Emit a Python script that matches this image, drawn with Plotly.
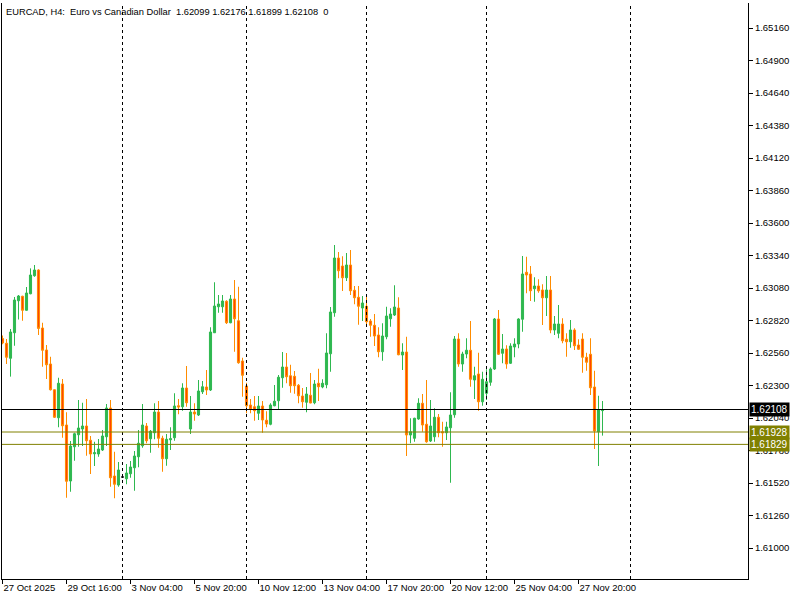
import plotly.graph_objects as go

# ---- data (EURCAD H4, bar index 0 = 27 Oct 2025 00:00) ----
opens = [1.62676, 1.62638, 1.62518, 1.62722, 1.62978, 1.63014, 1.62902, 1.63034, 1.63178, 1.63224,
         1.62760, 1.62584, 1.62472, 1.62266, 1.62042, 1.62312, 1.61984, 1.61536, 1.61810, 1.61906,
         1.61952, 1.61976, 1.61862, 1.61754, 1.61752, 1.61784, 1.61890, 1.62120, 1.61576, 1.61504,
         1.61568, 1.61554, 1.61594, 1.61642, 1.61730, 1.61818, 1.61976, 1.61874, 1.61922, 1.62088,
         1.61878, 1.61714, 1.61866, 1.61882, 1.62138, 1.62130, 1.62280, 1.61952, 1.62088, 1.62064,
         1.62250, 1.62288, 1.62264, 1.62722, 1.62930, 1.62930, 1.62974, 1.62802, 1.62992, 1.62818,
         1.62496, 1.62296, 1.62144, 1.62130, 1.62078, 1.62136, 1.62022, 1.61990, 1.62138, 1.62178,
         1.62362, 1.62448, 1.62378, 1.62374, 1.62302, 1.62216, 1.62166, 1.62222, 1.62162, 1.62318,
         1.62288, 1.62306, 1.62554, 1.62882, 1.63320, 1.63256, 1.63162, 1.63264, 1.63062, 1.63006,
         1.62920, 1.62934, 1.62816, 1.62782, 1.62704, 1.62570, 1.62690, 1.62834, 1.62864, 1.62920,
         1.62544, 1.62568, 1.61904, 1.61878, 1.62032, 1.62158, 1.61990, 1.61856, 1.61890, 1.62046,
         1.61930, 1.61922, 1.61962, 1.62066, 1.62672, 1.62472, 1.62552, 1.62582, 1.62344, 1.62392,
         1.62170, 1.62238, 1.62326, 1.62432, 1.62832, 1.62558, 1.62592, 1.62478, 1.62608, 1.62632,
         1.62830, 1.63206, 1.63192, 1.63074, 1.63096, 1.63064, 1.63002, 1.63064, 1.62744, 1.62718,
         1.62792, 1.62670, 1.62650, 1.62744, 1.62624, 1.62672, 1.62526, 1.62550, 1.62288, 1.61930,
         1.62099]
highs = [1.62700, 1.62672, 1.62752, 1.63008, 1.63024, 1.63018, 1.63088, 1.63237, 1.63264, 1.63230,
         1.62802, 1.62624, 1.62530, 1.62270, 1.62362, 1.62352, 1.62086, 1.61856, 1.61922, 1.62184,
         1.62162, 1.62192, 1.61896, 1.61850, 1.61872, 1.61944, 1.62152, 1.62184, 1.61770, 1.61688,
         1.61576, 1.61672, 1.61696, 1.61776, 1.61944, 1.62152, 1.62000, 1.61944, 1.62158, 1.62176,
         1.61898, 1.61912, 1.61966, 1.62238, 1.62192, 1.62318, 1.62456, 1.62216, 1.62158, 1.62344,
         1.62336, 1.62424, 1.62766, 1.63126, 1.63024, 1.63024, 1.62982, 1.63024, 1.63144, 1.63090,
         1.62522, 1.62322, 1.62192, 1.62216, 1.62216, 1.62176, 1.62094, 1.62158, 1.62304, 1.62384,
         1.62568, 1.62560, 1.62466, 1.62416, 1.62312, 1.62280, 1.62288, 1.62400, 1.62344, 1.62434,
         1.62350, 1.62718, 1.62928, 1.63424, 1.63368, 1.63334, 1.63360, 1.63384, 1.63096, 1.63096,
         1.63016, 1.63016, 1.62832, 1.62872, 1.62766, 1.62798, 1.62930, 1.62918, 1.63102, 1.63006,
         1.62638, 1.62690, 1.62038, 1.62042, 1.62198, 1.62232, 1.62344, 1.62184, 1.62118, 1.62072,
         1.62010, 1.62010, 1.62246, 1.62696, 1.62718, 1.62570, 1.62678, 1.62816, 1.62450, 1.62562,
         1.62410, 1.62430, 1.62445, 1.62840, 1.62904, 1.62712, 1.62622, 1.62638, 1.62678, 1.62838,
         1.63336, 1.63330, 1.63256, 1.63166, 1.63150, 1.63110, 1.63176, 1.63176, 1.62856, 1.62944,
         1.62838, 1.62718, 1.62824, 1.62758, 1.62670, 1.62718, 1.62562, 1.62678, 1.62418, 1.62218,
         1.62176]
lows = [1.62630, 1.62472, 1.62371, 1.62618, 1.62828, 1.62818, 1.62898, 1.63030, 1.63170, 1.62704,
        1.62450, 1.62352, 1.62260, 1.62040, 1.61966, 1.61882, 1.61402, 1.61450, 1.61698, 1.61810,
        1.61816, 1.61738, 1.61592, 1.61656, 1.61730, 1.61776, 1.61816, 1.61490, 1.61398, 1.61490,
        1.61560, 1.61510, 1.61562, 1.61458, 1.61646, 1.61802, 1.61838, 1.61762, 1.61870, 1.61802,
        1.61610, 1.61658, 1.61784, 1.61858, 1.62070, 1.62098, 1.62130, 1.61912, 1.62018, 1.62056,
        1.62232, 1.62224, 1.62256, 1.62720, 1.62882, 1.62882, 1.62792, 1.62798, 1.62570, 1.62474,
        1.62210, 1.62078, 1.62078, 1.62018, 1.62024, 1.61922, 1.61966, 1.61982, 1.62134, 1.62110,
        1.62282, 1.62318, 1.62242, 1.62234, 1.62158, 1.62122, 1.62086, 1.62158, 1.62150, 1.62176,
        1.62278, 1.62278, 1.62410, 1.62850, 1.63158, 1.63056, 1.63136, 1.63024, 1.62950, 1.62786,
        1.62816, 1.62786, 1.62690, 1.62616, 1.62526, 1.62498, 1.62670, 1.62770, 1.62856, 1.62542,
        1.62424, 1.61736, 1.61838, 1.61850, 1.62026, 1.61930, 1.61842, 1.61848, 1.61850, 1.61886,
        1.61810, 1.61864, 1.61522, 1.62042, 1.62450, 1.62410, 1.62518, 1.62290, 1.62192, 1.62098,
        1.62138, 1.62184, 1.62298, 1.62424, 1.62544, 1.62478, 1.62434, 1.62472, 1.62526, 1.62598,
        1.62730, 1.63038, 1.62976, 1.62970, 1.63042, 1.62784, 1.62856, 1.62718, 1.62704, 1.62678,
        1.62638, 1.62530, 1.62602, 1.62584, 1.62584, 1.62402, 1.62418, 1.62224, 1.61792, 1.61656,
        1.61899]
closes = [1.62640, 1.62526, 1.62728, 1.62984, 1.63016, 1.62902, 1.63040, 1.63184, 1.63224, 1.62757,
          1.62582, 1.62466, 1.62266, 1.62046, 1.62318, 1.61978, 1.61534, 1.61816, 1.61914, 1.61960,
          1.61976, 1.61858, 1.61752, 1.61762, 1.61792, 1.61896, 1.62120, 1.61562, 1.61510, 1.61624,
          1.61568, 1.61600, 1.61648, 1.61736, 1.61838, 1.61984, 1.61858, 1.61934, 1.62088, 1.61878,
          1.61714, 1.61870, 1.61874, 1.62136, 1.62128, 1.62280, 1.62162, 1.62088, 1.62072, 1.62256,
          1.62290, 1.62264, 1.62728, 1.62936, 1.62952, 1.62976, 1.62802, 1.62992, 1.62834, 1.62482,
          1.62382, 1.62138, 1.62110, 1.62098, 1.62136, 1.62024, 1.61992, 1.62144, 1.62174, 1.62366,
          1.62448, 1.62370, 1.62298, 1.62298, 1.62218, 1.62170, 1.62232, 1.62160, 1.62312, 1.62290,
          1.62318, 1.62560, 1.62888, 1.63320, 1.63218, 1.63162, 1.63264, 1.63058, 1.63002, 1.62934,
          1.62960, 1.62810, 1.62782, 1.62696, 1.62570, 1.62696, 1.62856, 1.62872, 1.62928, 1.62546,
          1.62568, 1.61904, 1.61930, 1.62038, 1.62158, 1.61984, 1.61850, 1.61976, 1.62046, 1.61922,
          1.61922, 1.61968, 1.62064, 1.62672, 1.62472, 1.62552, 1.62582, 1.62350, 1.62378, 1.62170,
          1.62350, 1.62330, 1.62432, 1.62832, 1.62550, 1.62592, 1.62472, 1.62616, 1.62632, 1.62832,
          1.63192, 1.63184, 1.63058, 1.63096, 1.63058, 1.63002, 1.63064, 1.62744, 1.62792, 1.62792,
          1.62658, 1.62650, 1.62744, 1.62618, 1.62590, 1.62526, 1.62486, 1.62282, 1.61936, 1.62104,
          1.62108]

x_tick_idx = [0, 16, 32, 48, 64, 80, 96, 112, 128, 144]
x_tick_labels = ["27 Oct 2025", "29 Oct 16:00", "3 Nov 04:00", "5 Nov 20:00", "10 Nov 12:00",
                 "13 Nov 04:00", "17 Nov 20:00", "20 Nov 12:00", "25 Nov 04:00", "27 Nov 20:00"]
y_ticks = [1.61000, 1.61260, 1.61520, 1.61780, 1.62040, 1.62300, 1.62560, 1.62820, 1.63080,
           1.63340, 1.63600, 1.63860, 1.64120, 1.64380, 1.64640, 1.64900, 1.65160]
separators = [30, 61, 91, 121, 157]
bid_price = 1.62108
level_prices = [1.61928, 1.61829]
title_text = "EURCAD, H4:  Euro vs Canadian Dollar  1.62099 1.62176 1.61899 1.62108  0"

GREEN = "#2EB84F"
ORANGE = "#FF8C00"
RED = "#FF4500"
OLIVE = "#808000"
FONT = "Liberation Sans"

idx = list(range(len(opens)))
main_i = [i for i in idx if opens[i] != closes[i]]
doji_i = [i for i in idx if opens[i] == closes[i]]

fig = go.Figure()
fig.add_trace(go.Candlestick(
    x=main_i,
    open=[opens[i] for i in main_i], high=[highs[i] for i in main_i],
    low=[lows[i] for i in main_i], close=[closes[i] for i in main_i],
    increasing=dict(line=dict(color=GREEN, width=1), fillcolor=GREEN),
    decreasing=dict(line=dict(color=ORANGE, width=1), fillcolor=RED),
    whiskerwidth=0, hoverinfo="skip", showlegend=False))
if doji_i:
    fig.add_trace(go.Candlestick(
        x=doji_i,
        open=[opens[i] for i in doji_i], high=[highs[i] for i in doji_i],
        low=[lows[i] for i in doji_i], close=[closes[i] for i in doji_i],
        increasing=dict(line=dict(color="black", width=1), fillcolor="black"),
        decreasing=dict(line=dict(color="black", width=1), fillcolor="black"),
        whiskerwidth=0, hoverinfo="skip", showlegend=False))

# week separators
for s in separators:
    fig.add_shape(type="line", xref="x", yref="paper", x0=s, x1=s, y0=0, y1=1,
                  line=dict(color="black", width=1, dash="3px,3px"), layer="above")

# price lines
fig.add_shape(type="line", xref="paper", yref="y", x0=0, x1=1, y0=bid_price, y1=bid_price,
              line=dict(color="black", width=1), layer="above")
for lv in level_prices:
    fig.add_shape(type="line", xref="paper", yref="y", x0=0, x1=1, y0=lv, y1=lv,
                  line=dict(color=OLIVE, width=1), layer="above")

# axis price labels
fig.add_annotation(xref="paper", yref="y", x=1, y=bid_price, xanchor="left", yanchor="middle",
                   xshift=1, text=f"{bid_price:.5f}", showarrow=False, bgcolor="black",
                   font=dict(color="white", size=10, family=FONT), borderpad=1)
for lv in level_prices:
    fig.add_annotation(xref="paper", yref="y", x=1, y=lv, xanchor="left", yanchor="middle",
                       xshift=1, text=f"{lv:.5f}", showarrow=False, bgcolor=OLIVE,
                       font=dict(color="white", size=10, family=FONT), borderpad=1)

# title
fig.add_annotation(xref="paper", yref="paper", x=0, y=1, xanchor="left", yanchor="top",
                   xshift=2, yshift=-2, text=title_text.replace("  ", "\u00a0\u00a0"),
                   showarrow=False, font=dict(color="black", size=9.3, family=FONT))

fig.update_layout(
    width=800, height=600,
    margin=dict(l=2, r=52, t=3, b=21, autoexpand=False),
    paper_bgcolor="white", plot_bgcolor="white",
    boxgap=0.25,
    font=dict(family=FONT, size=9.5, color="black"),
    showlegend=False,
    xaxis=dict(range=[-0.125, 186.375], rangeslider=dict(visible=False), showgrid=False, zeroline=False,
               showline=True, linecolor="black", linewidth=1, mirror=False,
               tickmode="array", tickvals=x_tick_idx, ticktext=x_tick_labels,
               ticks="outside", ticklen=4, tickcolor="black", tickangle=0,
               ticklabelposition="outside right", automargin=False,
               tickfont=dict(size=9.5, family=FONT, color="black")),
    yaxis=dict(range=[1.60752, 1.65360], side="right", showgrid=False, zeroline=False,
               showline=True, linecolor="black", linewidth=1, mirror=True,
               tickmode="array", tickvals=y_ticks, ticktext=[f"{v:.5f}" for v in y_ticks],
               ticks="outside", ticklen=4, tickcolor="black", automargin=False,
               tickfont=dict(size=9.5, family=FONT, color="black")),
)

fig.write_html("out.html", config={"displayModeBar": False},
               post_script="document.body.style.margin='0px';document.body.style.overflow='hidden';")
